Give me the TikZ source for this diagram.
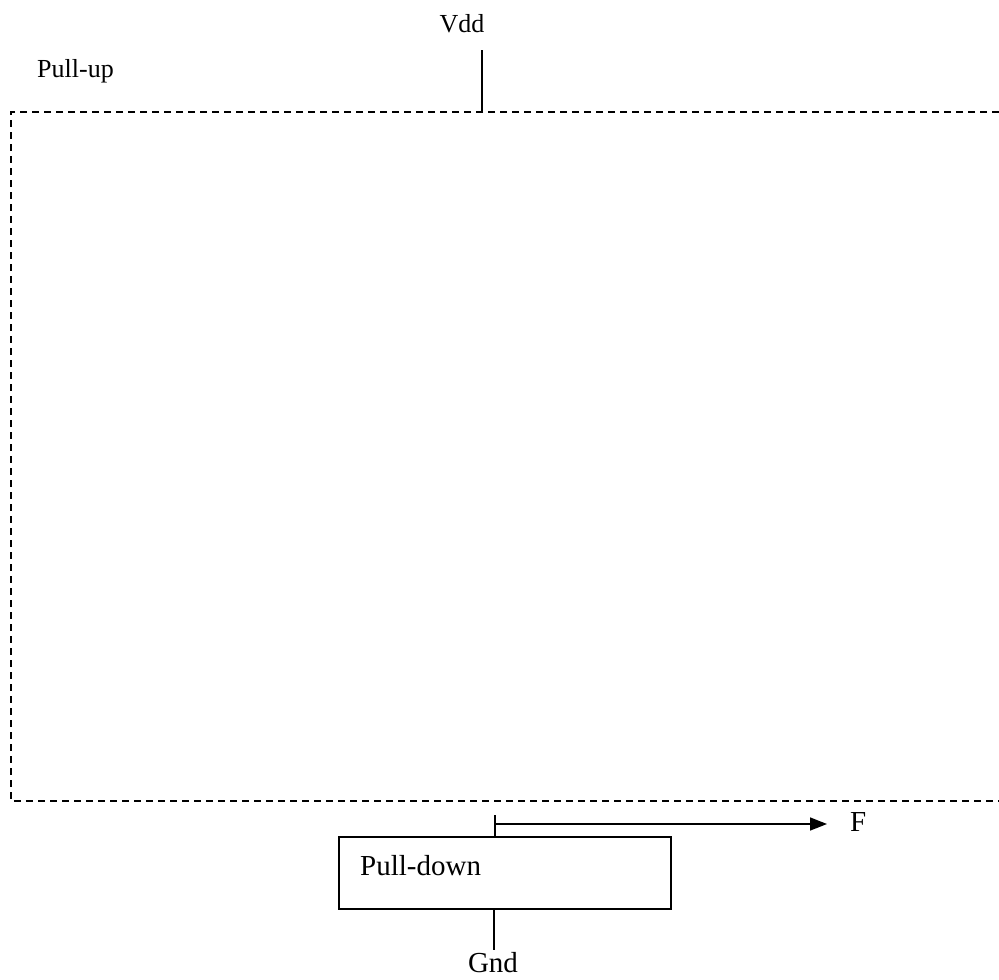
\documentclass[tikz,border=0pt]{standalone}
\usepackage{fontspec}
\setmainfont{Liberation Serif}
\usetikzlibrary{arrows.meta}
\begin{document}
\begin{tikzpicture}[x=1pt,y=-1pt,
  lbl/.style={font=\fontsize{29}{32}\selectfont, inner sep=0pt, anchor=base},
  toplbl/.style={lbl, font=\fontsize{26}{30}\selectfont},
  dashbox/.style={line width=1.8pt, dash pattern=on 7pt off 5pt},
  wire/.style={line width=1.6pt},
  blockbox/.style={draw, line width=2pt, minimum width=332pt, minimum height=72pt, inner sep=0pt}]
\useasboundingbox (0,0) rectangle (999,980);
% dashed pull-up region (open on the right)
\coordinate (tr) at (999,112);
\coordinate (tl) at (11,112);
\coordinate (bl) at (11,801);
\coordinate (br) at (999,801);
\draw[dashbox] (tr) -- (tl) -- (bl) -- (br);
% labels
\node[toplbl, anchor=base west] (pullup) at (37,77) {Pull-up};
\node[toplbl] (vdd) at (462,32) {Vdd};
\coordinate (vddtop) at (482,50);
\coordinate (vddbot) at (482,112);
\draw[wire] (vddtop) -- (vddbot);
% pull-down block
\node[blockbox] (pd) at (505,872.5) {};
\node[lbl, anchor=base west] (pdl) at (360,875) {Pull-down};
\coordinate (outtop) at (495,815);
\coordinate (outmid) at (495,824);
\coordinate (outbot) at (495,836);
\draw[wire] (outtop) -- (outbot);
\node[lbl, anchor=base west] (F) at (850,831) {F};
\draw[wire, -{Triangle[length=17pt,width=13pt]}] (outmid) -- (827,824);
% ground
\coordinate (gtop) at (494,909);
\coordinate (gbot) at (494,950);
\draw[wire] (gtop) -- (gbot);
\node[lbl] (gnd) at (493,972) {Gnd};
\end{tikzpicture}
\end{document}
